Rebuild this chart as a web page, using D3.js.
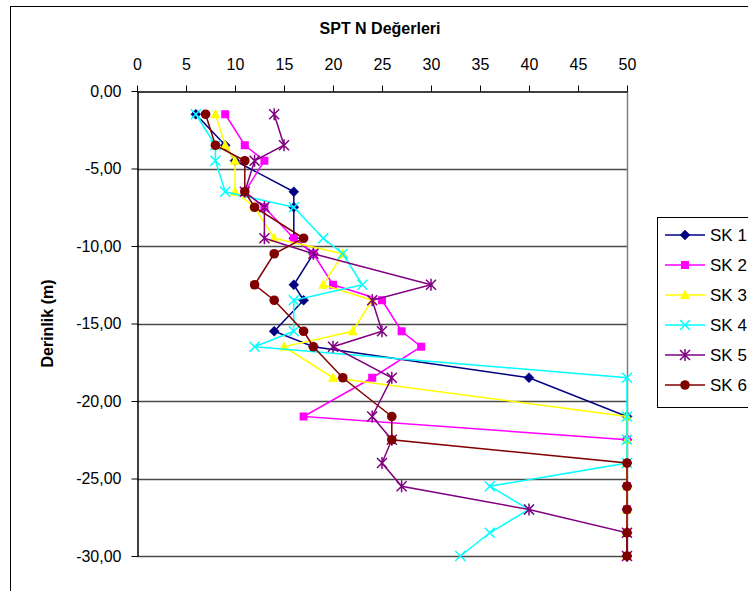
<!DOCTYPE html>
<html>
<head>
<meta charset="utf-8">
<script src="https://cdn.jsdelivr.net/npm/d3@7"></script>
<style>
  html, body { margin: 0; padding: 0; background: #fff; }
  svg { display: block; font-family: "Liberation Sans", Arial, sans-serif; }
</style>
</head>
<body>
<svg id="chart" width="748" height="591"></svg>
<script>
// Sampling depths (m) shared by all boreholes
const depths = [-1.5, -3.5, -4.5, -6.5, -7.5, -9.5, -10.5, -12.5, -13.5, -15.5, -16.5, -18.5, -21, -22.5, -24, -25.5, -27, -28.5, -30];

// SPT N values per borehole
const sk1 = [6, 9, 10, 16, 16, 16, 18, 16, 17, 14, 18, 40, 50, 50, 50, 50, 50, 50, 50];
const sk2 = [9, 11, 13, 11, 13, 16, 18, 20, 25, 27, 29, 24, 17, 50, 50, 50, 50, 50, 50];
const sk3 = [8, 9, 10, 10, 12, 14, 21, 19, 24, 22, 15, 20, 50, 50, 50, 50, 50, 50, 50];
const sk4 = [6, 8, 8, 9, 16, 19, 21, 23, 16, 16, 12, 50, 50, 50, 50, 36, 40, 36, 33];
const sk5 = [14, 15, 12, 11, 13, 13, 18, 30, 24, 25, 20, 26, 24, 26, 25, 27, 40, 50, 50];
const sk6 = [7, 8, 11, 11, 12, 17, 14, 12, 14, 17, 18, 21, 26, 26, 50, 50, 50, 50, 50];

const seriesNames = ["SK 1", "SK 2", "SK 3", "SK 4", "SK 5", "SK 6"];
const seriesValues = [sk1, sk2, sk3, sk4, sk5, sk6];
const seriesColors = ["#000080", "#FF00FF", "#FFFF00", "#00FFFF", "#800080", "#800000"];
const seriesMarkers = ["diamond", "square", "triangle", "cross", "star", "circle"];

const xTicks = [0, 5, 10, 15, 20, 25, 30, 35, 40, 45, 50];
const yTicks = [0, -5, -10, -15, -20, -25, -30];

const svg = d3.select("#chart");

// outer chart frame
svg.append("rect")
  .attr("x", 10.5).attr("y", 6.5)
  .attr("width", 760).attr("height", 600)
  .attr("fill", "#fff").attr("stroke", "#000").attr("stroke-width", 1);

const x = d3.scaleLinear().domain([0, 50]).range([137, 627]);
const y = d3.scaleLinear().domain([0, -30]).range([91, 556]);

// horizontal gridlines
svg.append("g").selectAll("line")
  .data(yTicks.filter(d => d !== 0))
  .join("line")
  .attr("x1", x(0)).attr("x2", x(50))
  .attr("y1", d => Math.round(y(d)) + 0.5).attr("y2", d => Math.round(y(d)) + 0.5)
  .attr("stroke", "#4a4a4a").attr("stroke-width", 1.5);

// right plot border
svg.append("line")
  .attr("x1", x(50) + 0.5).attr("x2", x(50) + 0.5)
  .attr("y1", y(0)).attr("y2", y(-30))
  .attr("stroke", "#808080").attr("stroke-width", 1.5);

// top value axis
const xAxis = d3.axisTop(x).tickValues(xTicks).tickSize(6).tickSizeOuter(0).tickFormat(d3.format("d"));
const gx = svg.append("g").attr("transform", `translate(0,${y(0) + 0.5})`).call(xAxis);
gx.select(".domain").attr("stroke", "#000").attr("stroke-width", 1.5);
gx.selectAll(".tick line").attr("stroke", "#000");
gx.selectAll(".tick text")
  .attr("y", -22)
  .attr("font-size", 16).attr("fill", "#000")
  .attr("font-family", "'Liberation Sans', Arial, sans-serif");

// left depth axis
const fmtDepth = d => d3.format(".2f")(d).replace(".", ",").replace("−", "-");
const yAxis = d3.axisLeft(y).tickValues(yTicks).tickSize(6).tickSizeOuter(0).tickFormat(fmtDepth);
const gy = svg.append("g").attr("transform", `translate(${x(0) + 0.5},0)`).call(yAxis);
gy.select(".domain").attr("stroke", "#000").attr("stroke-width", 1.5);
gy.selectAll(".tick line").attr("stroke", "#000");
gy.selectAll(".tick text")
  .attr("x", -16)
  .attr("font-size", 16).attr("fill", "#000")
  .attr("font-family", "'Liberation Sans', Arial, sans-serif");

// titles
svg.append("text")
  .attr("x", 380).attr("y", 34)
  .attr("text-anchor", "middle")
  .attr("font-size", 16).attr("font-weight", "bold")
  .text("SPT N Değerleri");

svg.append("text")
  .attr("transform", `translate(53,${(y(0) + y(-30)) / 2}) rotate(-90)`)
  .attr("text-anchor", "middle")
  .attr("font-size", 16).attr("font-weight", "bold")
  .text("Derinlik (m)");

// marker drawing helper
function drawMarker(g, type, cx, cy, color) {
  if (type === "diamond") {
    g.append("path")
      .attr("d", `M${cx},${cy - 5}L${cx + 5},${cy}L${cx},${cy + 5}L${cx - 5},${cy}Z`)
      .attr("fill", color).attr("stroke", color).attr("stroke-width", 0.5);
  } else if (type === "square") {
    g.append("rect")
      .attr("x", cx - 4).attr("y", cy - 4).attr("width", 8).attr("height", 8)
      .attr("fill", color);
  } else if (type === "triangle") {
    g.append("path")
      .attr("d", `M${cx},${cy - 5.5}L${cx + 5},${cy + 4}L${cx - 5},${cy + 4}Z`)
      .attr("fill", color);
  } else if (type === "cross") {
    g.append("path")
      .attr("d", `M${cx - 5},${cy - 5}L${cx + 5},${cy + 5}M${cx - 5},${cy + 5}L${cx + 5},${cy - 5}`)
      .attr("stroke", color).attr("stroke-width", 1.5).attr("fill", "none");
  } else if (type === "star") {
    g.append("path")
      .attr("d", `M${cx - 5},${cy - 5}L${cx + 5},${cy + 5}M${cx - 5},${cy + 5}L${cx + 5},${cy - 5}M${cx},${cy - 6}L${cx},${cy + 6}`)
      .attr("stroke", color).attr("stroke-width", 1.5).attr("fill", "none");
  } else if (type === "circle") {
    g.append("circle")
      .attr("cx", cx).attr("cy", cy).attr("r", 4.8)
      .attr("fill", color);
  }
}

const line = d3.line()
  .defined(d => d.v != null)
  .x(d => x(d.v))
  .y(d => y(d.depth));

// series lines with markers
seriesValues.forEach((vals, i) => {
  const pts = vals.map((v, j) => ({ v, depth: depths[j] }));
  const g = svg.append("g");
  g.append("path")
    .datum(pts)
    .attr("d", line)
    .attr("fill", "none")
    .attr("stroke", seriesColors[i])
    .attr("stroke-width", 1.5);
  pts.filter(p => p.v != null).forEach(p => drawMarker(g, seriesMarkers[i], x(p.v), y(p.depth), seriesColors[i]));
});

// legend
const legend = svg.append("g");
legend.append("rect")
  .attr("x", 657.5).attr("y", 217.5)
  .attr("width", 120).attr("height", 190)
  .attr("fill", "#fff").attr("stroke", "#000").attr("stroke-width", 1);

seriesNames.forEach((name, i) => {
  const ly = 235 + i * 30;
  const g = legend.append("g");
  g.append("line")
    .attr("x1", 665).attr("x2", 705)
    .attr("y1", ly).attr("y2", ly)
    .attr("stroke", seriesColors[i]).attr("stroke-width", 1.5);
  drawMarker(g, seriesMarkers[i], 685, ly, seriesColors[i]);
  g.append("text")
    .attr("x", 710).attr("y", ly)
    .attr("dy", "0.36em")
    .attr("font-size", 17)
    .text(name);
});
</script>
</body>
</html>
